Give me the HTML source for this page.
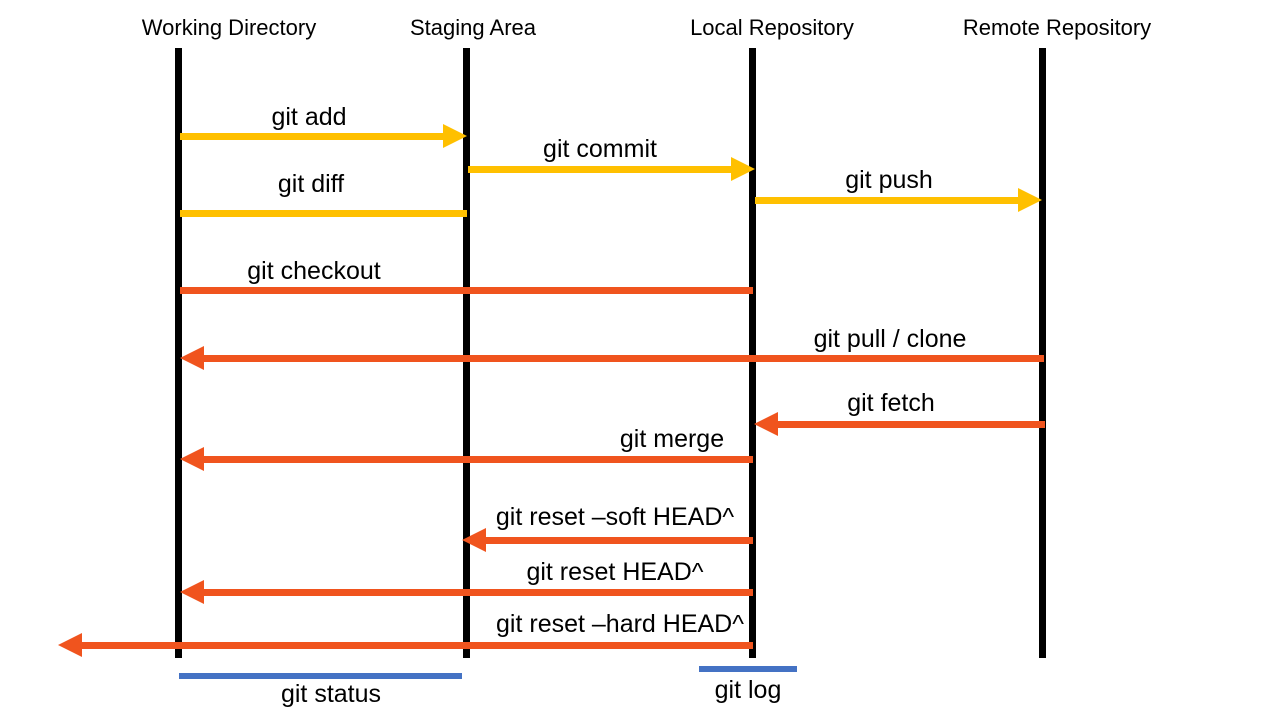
<!DOCTYPE html>
<html><head><style>
html,body{margin:0;padding:0;background:#fff}
svg{display:block}
text{font-family:"Liberation Sans",sans-serif;fill:#000}
</style></head><body>
<svg width="1280" height="720" viewBox="0 0 1280 720">
<g font-size="22" text-anchor="middle">
<text x="229" y="35">Working Directory</text>
<text x="473" y="35">Staging Area</text>
<text x="772" y="35">Local Repository</text>
<text x="1057" y="35">Remote Repository</text>
</g>
<g fill="#000">
<rect x="175" y="48" width="7" height="610"/>
<rect x="463" y="48" width="7" height="610"/>
<rect x="749" y="48" width="7" height="610"/>
<rect x="1039" y="48" width="7" height="610"/>
</g>
<g fill="#FFC000">
<rect x="180" y="133" width="265" height="7"/><polygon points="443,124 467,136 443,148"/>
<rect x="468" y="166" width="265" height="7"/><polygon points="731,157 755,169 731,181"/>
<rect x="180" y="210" width="287" height="7"/>
<rect x="755" y="197" width="265" height="7"/><polygon points="1018,188 1042,200 1018,212"/>
</g>
<g fill="#F0541E">
<rect x="180" y="287" width="573" height="7"/>
<rect x="202" y="355" width="842" height="7"/><polygon points="204,346 180,358 204,370"/>
<rect x="776" y="421" width="269" height="7"/><polygon points="778,412 754,424 778,436"/>
<rect x="202" y="456" width="551" height="7"/><polygon points="204,447 180,459 204,471"/>
<rect x="484" y="537" width="269" height="7"/><polygon points="486,528 462,540 486,552"/>
<rect x="202" y="589" width="551" height="7"/><polygon points="204,580 180,592 204,604"/>
<rect x="80" y="642" width="673" height="7"/><polygon points="82,633 58,645 82,657"/>
</g>
<g fill="#4472C4">
<rect x="179" y="673" width="283" height="6"/>
<rect x="699" y="666" width="98" height="6"/>
</g>
<g font-size="25" text-anchor="middle">
<text x="309" y="125">git add</text>
<text x="600" y="157">git commit</text>
<text x="311" y="192">git diff</text>
<text x="889" y="188">git push</text>
<text x="314" y="279">git checkout</text>
<text x="890" y="347">git pull / clone</text>
<text x="891" y="411">git fetch</text>
<text x="672" y="447">git merge</text>
<text x="615" y="525">git reset –soft HEAD^</text>
<text x="615" y="580">git reset HEAD^</text>
<text x="620" y="632">git reset –hard HEAD^</text>
<text x="331" y="702">git status</text>
<text x="748" y="698">git log</text>
</g>
</svg>
</body></html>
